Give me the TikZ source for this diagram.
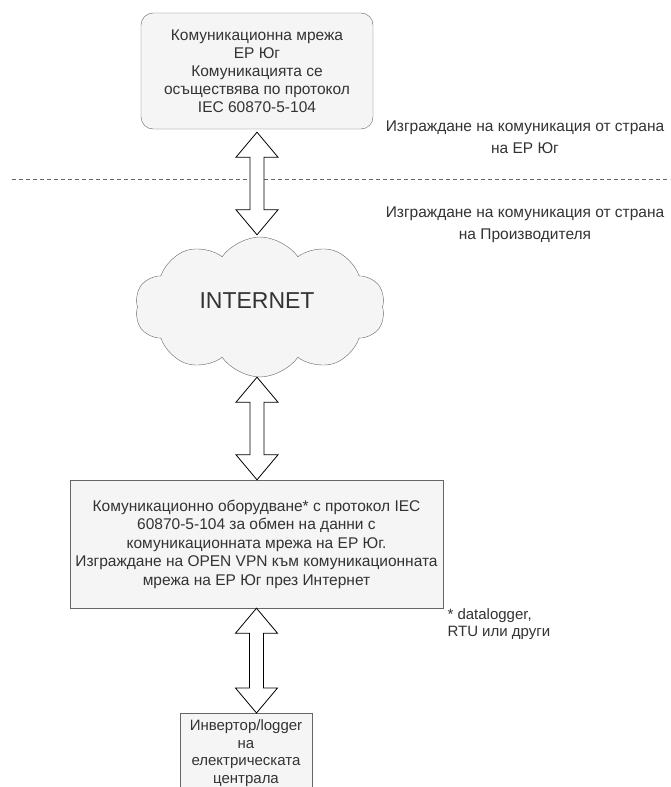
\documentclass[tikz,border=0pt]{standalone}
\usepackage{fontspec}
\setmainfont{Liberation Sans}
\usepackage{xcolor}
\usetikzlibrary{shapes.symbols, calc}

\definecolor{boxfill}{HTML}{F5F5F5}
\definecolor{boxline}{HTML}{666666}
\definecolor{textgray}{HTML}{333333}

\begin{document}
\begin{tikzpicture}[x=1pt, y=-1pt]

\tikzstyle{network} =
[rectangle,
rounded corners=12pt,
minimum width=232pt,
minimum height=116pt,
align=center,
draw=boxline,
fill=boxfill,
text=textgray,
font=\fontsize{15.5}{18}\selectfont]

\tikzstyle{device} =
[rectangle,
minimum width=373pt,
minimum height=128pt,
align=center,
draw=boxline,
fill=boxfill,
text=textgray,
font=\fontsize{15.5}{18.5}\selectfont]

\tikzstyle{internetcloud} =
[cloud,
cloud puffs=10,
cloud puff arc=110,
aspect=1.8,
minimum width=250pt,
minimum height=140pt,
draw=boxline,
fill=boxfill,
text=textgray,
font=\fontsize{23}{27}\selectfont]

\tikzstyle{note} =
[align=center,
text=textgray,
font=\fontsize{15.5}{22}\selectfont]

\tikzstyle{fatarrow} =
[draw=black,
fill=white,
line width=0.8pt,
to path={let \p1=(\tikztostart), \p2=(\tikztotarget) in
(\x1,\y1) -- (\x1+21pt,\y1-25pt) -- (\x1+7pt,\y1-25pt) -- (\x1+7pt,\y2+25pt)
-- (\x1+21pt,\y2+25pt) -- (\x1,\y2) -- (\x1-21pt,\y2+25pt) -- (\x1-7pt,\y2+25pt)
-- (\x1-7pt,\y1-25pt) -- (\x1-21pt,\y1-25pt) -- cycle}]

\clip (0,0) rectangle (670,787);
\fill[white] (0,0) rectangle (670,787);

\node (ernet) [network] at (257,71)
{Комуникационна мрежа\\ЕР Юг\\Комуникацията се\\осъществява по протокол\\IEC 60870-5-104};

\node (internet) [internetcloud] at (260,307) {};
\node (internettext) [text=textgray, font=\fontsize{23}{27}\selectfont] at (257,301) {INTERNET};

\node (device) [device] at (256.5,544)
{Комуникационно оборудване* с протокол IEC\\60870-5-104 за обмен на данни с\\комуникационната мрежа на ЕР Юг.\\Изграждане на OPEN VPN към комуникационната\\мрежа на ЕР Юг през Интернет};

\node (inverter) [device, minimum width=132pt, minimum height=80pt, inner sep=2pt,
font=\fontsize{15}{17.5}\selectfont, anchor=north] at (246,713)
{Инвертор/logger\\на\\електрическата\\централа};

\node (labeler) [note] at (525,137)
{Изграждане на комуникация от страна\\на ЕР Юг};

\node (labelprod) [note] at (525,225)
{Изграждане на комуникация от страна\\на Производителя};

\node (footnote) [note, align=left, anchor=north west, font=\fontsize{15}{17}\selectfont] at (444,605)
{* datalogger,\\RTU или други};

% split between the two sides
\coordinate (splitleft) at (12,179);
\coordinate (splitright) at (670,179);
\draw[boxline, dash pattern=on 4pt off 3pt] (splitleft) -- (splitright);

\draw[fatarrow] ([yshift=-3pt]ernet.south) to ([xshift=-3pt, yshift=2pt]internet.north);
\draw[fatarrow] ([xshift=-3pt]internet.south) to (device.north);
\draw[fatarrow] (device.south) to ([xshift=10pt]inverter.north);

\end{tikzpicture}
\end{document}
